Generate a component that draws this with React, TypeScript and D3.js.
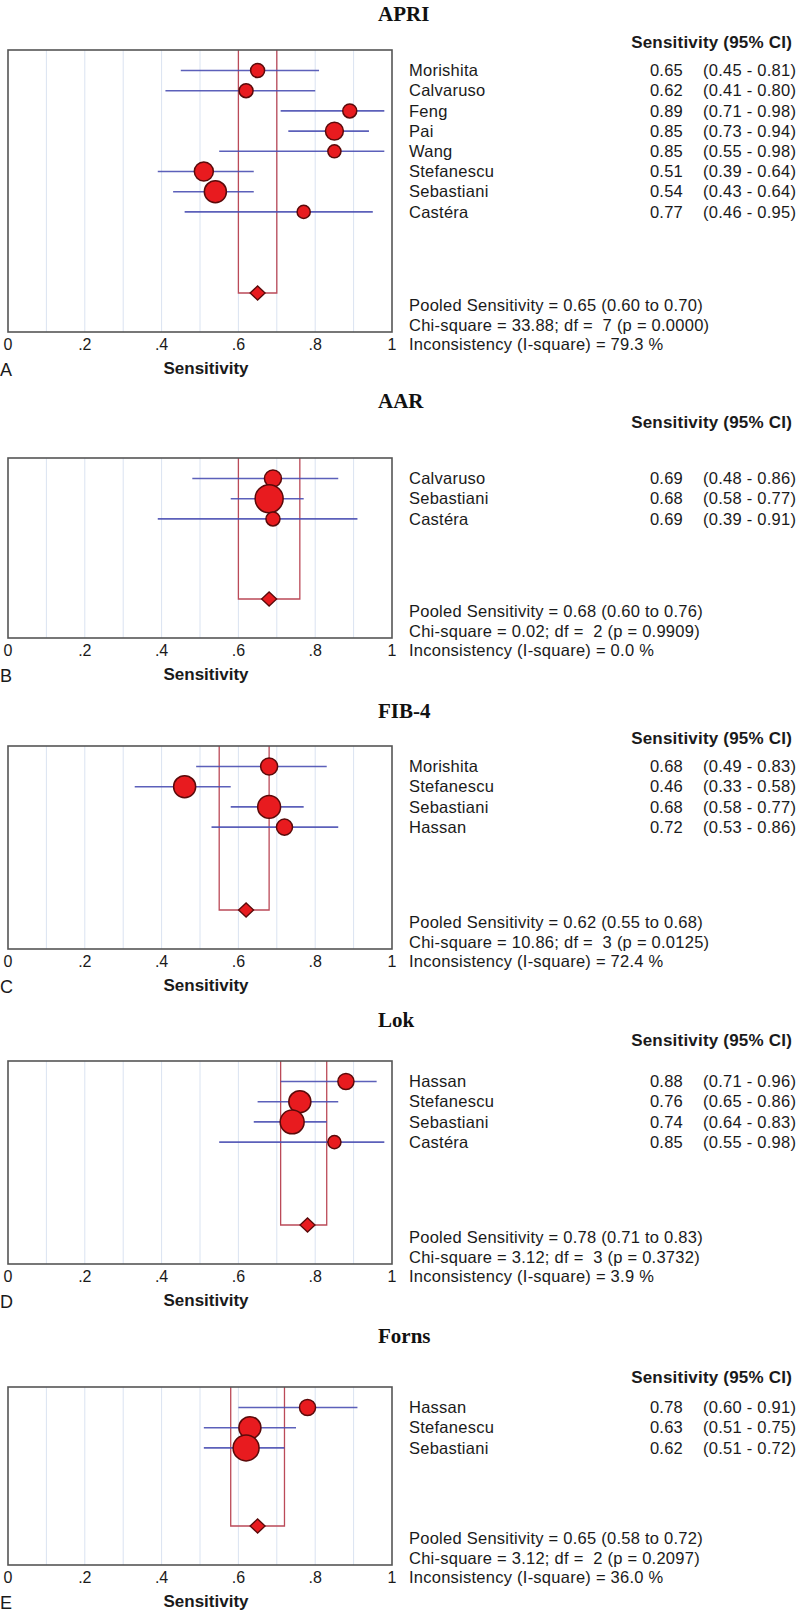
import * as d3 from "d3"

// APRI
const apriStudies = ["Morishita", "Calvaruso", "Feng", "Pai", "Wang", "Stefanescu", "Sebastiani", "Castéra"]
const apriSens = [0.65, 0.62, 0.89, 0.85, 0.85, 0.51, 0.54, 0.77]
const apriLow = [0.45, 0.41, 0.71, 0.73, 0.55, 0.39, 0.43, 0.46]
const apriHigh = [0.81, 0.80, 0.98, 0.94, 0.98, 0.64, 0.64, 0.95]
const apriWeight = [25, 25, 25, 41, 22, 46, 62, 22]
const apriPooled = [0.65, 0.60, 0.70]
const apriChi = [33.88, 7]
const apriP = "0.0000"
const apriI2 = 79.3

// AAR
const aarStudies = ["Calvaruso", "Sebastiani", "Castéra"]
const aarSens = [0.69, 0.68, 0.69]
const aarLow = [0.48, 0.58, 0.39]
const aarHigh = [0.86, 0.77, 0.91]
const aarWeight = [37, 100, 25]
const aarPooled = [0.68, 0.60, 0.76]
const aarChi = [0.02, 2]
const aarP = "0.9909"
const aarI2 = 0.0

// FIB-4
const fibStudies = ["Morishita", "Stefanescu", "Sebastiani", "Hassan"]
const fibSens = [0.68, 0.46, 0.68, 0.72]
const fibLow = [0.49, 0.33, 0.58, 0.53]
const fibHigh = [0.83, 0.58, 0.77, 0.86]
const fibWeight = [37, 62, 67, 33]
const fibPooled = [0.62, 0.55, 0.68]
const fibChi = [10.86, 3]
const fibP = "0.0125"
const fibI2 = 72.4

// Lok
const lokStudies = ["Hassan", "Stefanescu", "Sebastiani", "Castéra"]
const lokSens = [0.88, 0.76, 0.74, 0.85]
const lokLow = [0.71, 0.65, 0.64, 0.55]
const lokHigh = [0.96, 0.86, 0.83, 0.98]
const lokWeight = [33, 62, 73, 22]
const lokPooled = [0.78, 0.71, 0.83]
const lokChi = [3.12, 3]
const lokP = "0.3732"
const lokI2 = 3.9

// Forns
const fornsStudies = ["Hassan", "Stefanescu", "Sebastiani"]
const fornsSens = [0.78, 0.63, 0.62]
const fornsLow = [0.60, 0.51, 0.51]
const fornsHigh = [0.91, 0.75, 0.72]
const fornsWeight = [33, 62, 86]
const fornsPooled = [0.65, 0.58, 0.72]
const fornsChi = [3.12, 2]
const fornsP = "0.2097"
const fornsI2 = 36.0

const xTicks = [0, 0.2, 0.4, 0.6, 0.8, 1]

const panels = [
  { title: "APRI", letter: "A", studies: apriStudies, sens: apriSens, low: apriLow, high: apriHigh, weight: apriWeight, pooled: apriPooled, chi: apriChi, p: apriP, i2: apriI2 },
  { title: "AAR", letter: "B", studies: aarStudies, sens: aarSens, low: aarLow, high: aarHigh, weight: aarWeight, pooled: aarPooled, chi: aarChi, p: aarP, i2: aarI2 },
  { title: "FIB-4", letter: "C", studies: fibStudies, sens: fibSens, low: fibLow, high: fibHigh, weight: fibWeight, pooled: fibPooled, chi: fibChi, p: fibP, i2: fibI2 },
  { title: "Lok", letter: "D", studies: lokStudies, sens: lokSens, low: lokLow, high: lokHigh, weight: lokWeight, pooled: lokPooled, chi: lokChi, p: lokP, i2: lokI2 },
  { title: "Forns", letter: "E", studies: fornsStudies, sens: fornsSens, low: fornsLow, high: fornsHigh, weight: fornsWeight, pooled: fornsPooled, chi: fornsChi, p: fornsP, i2: fornsI2 },
]

// vertical placement of each panel (title baseline, header centre, box top / bottom)
const layout = [
  { titleY: 21, headerY: 42, boxTop: 50, boxBottom: 332 },
  { titleY: 408, headerY: 422, boxTop: 458, boxBottom: 638 },
  { titleY: 718, headerY: 738, boxTop: 746, boxBottom: 949 },
  { titleY: 1027, headerY: 1040, boxTop: 1061, boxBottom: 1264 },
  { titleY: 1343, headerY: 1377, boxTop: 1387, boxBottom: 1565 },
]

const W = 800, H = 1615
const SANS = "'Liberation Sans', Arial, sans-serif"
const SERIF = "'Liberation Serif', 'Times New Roman', serif"
const x = d3.scaleLinear().domain([0, 1]).range([8, 392])
const r = d3.scaleSqrt().domain([0, 100]).range([0, 14])
const f2 = d3.format(".2f")
const tickFmt = (d: number) => (d === 0 || d === 1 ? String(d) : f2(d).replace(/^0/, "").replace(/0$/, ""))

type P = (typeof panels)[number]

function Panel({ p, lay }: { p: P; lay: (typeof layout)[number] }) {
  const top = lay.boxTop
  const bottom = lay.boxBottom
  const y = d3.scaleLinear().domain([0, 1]).range([top + 20.5, top + 40.7])
  const dy = bottom - 39
  const px = x(p.pooled[0])
  const grid = d3.range(1, 10).map(i => i / 10)
  const stats = [
    `Pooled Sensitivity = ${f2(p.pooled[0])} (${f2(p.pooled[1])} to ${f2(p.pooled[2])})`,
    `Chi-square = ${f2(p.chi[0])}; df =  ${p.chi[1]} (p = ${p.p})`,
    `Inconsistency (I-square) = ${d3.format(".1f")(p.i2)} %`,
  ]
  const textStyle = { fontFamily: SANS, fontSize: 16.5, letterSpacing: 0.25, fill: "#1a1a1a", whiteSpace: "pre" as const }
  return (
    <g>
      <text x={378} y={lay.titleY} fontFamily={SERIF} fontWeight="bold" fontSize={21} fill="#111">{p.title}</text>
      <text x={792} y={lay.headerY + 6} textAnchor="end" fontFamily={SANS} fontWeight="bold" fontSize={17} fill="#1a1a1a" letterSpacing={0.2}>Sensitivity (95% CI)</text>
      {grid.map(g => (
        <line key={g} x1={x(g)} x2={x(g)} y1={top} y2={bottom} stroke="#dae3f1" strokeWidth={1} />
      ))}
      <path d={`M${x(p.pooled[1])},${top}V${dy}H${x(p.pooled[2])}V${top}`} fill="none" stroke="#bb4a58" strokeWidth={1.3} />
      {p.studies.map((s, i) => (
        <line key={s + i} x1={x(p.low[i])} x2={x(p.high[i])} y1={y(i)} y2={y(i)} stroke="#4a4fb2" strokeWidth={1.6} strokeOpacity={0.9} />
      ))}
      {p.studies.map((s, i) => (
        <circle key={s + i} cx={x(p.sens[i])} cy={y(i)} r={r(p.weight[i])} fill="#e81b1f" stroke="#5a0a0a" strokeWidth={1.5} />
      ))}
      <path d={`M${px - 7.5},${dy}L${px},${dy - 7}L${px + 7.5},${dy}L${px},${dy + 7}Z`} fill="#e81b1f" stroke="#5a0a0a" strokeWidth={1.3} />
      <rect x={x(0)} y={top} width={x(1) - x(0)} height={bottom - top} fill="none" stroke="#555" strokeWidth={1.6} />
      {xTicks.map(t => (
        <text key={t} x={x(t)} y={bottom + 18} textAnchor="middle" fontFamily={SANS} fontSize={16} fill="#1a1a1a">{tickFmt(t)}</text>
      ))}
      <text x={206} y={bottom + 42} textAnchor="middle" fontFamily={SANS} fontWeight="bold" fontSize={17} fill="#1a1a1a">Sensitivity</text>
      <text x={0} y={bottom + 44} fontFamily={SANS} fontSize={18} fill="#1a1a1a">{p.letter}</text>
      {p.studies.map((s, i) => (
        <g key={s + i} style={textStyle}>
          <text x={409} y={y(i)} dy="0.35em">{s}</text>
          <text x={683} y={y(i)} dy="0.35em" textAnchor="end">{f2(p.sens[i])}</text>
          <text x={703} y={y(i)} dy="0.35em">{`(${f2(p.low[i])} - ${f2(p.high[i])})`}</text>
        </g>
      ))}
      {stats.map((s, i) => (
        <text key={i} x={409} y={bottom + 18 - (2 - i) * 19.5} style={textStyle}>{s}</text>
      ))}
    </g>
  )
}

export default function App() {
  return (
    <svg width={W} height={H} viewBox={`0 0 ${W} ${H}`} style={{ position: "absolute", left: 0, top: 0, background: "#fff" }}>
      <rect width={W} height={H} fill="#fff" />
      {panels.map((p, i) => (
        <Panel key={p.title} p={p} lay={layout[i]} />
      ))}
    </svg>
  )
}
